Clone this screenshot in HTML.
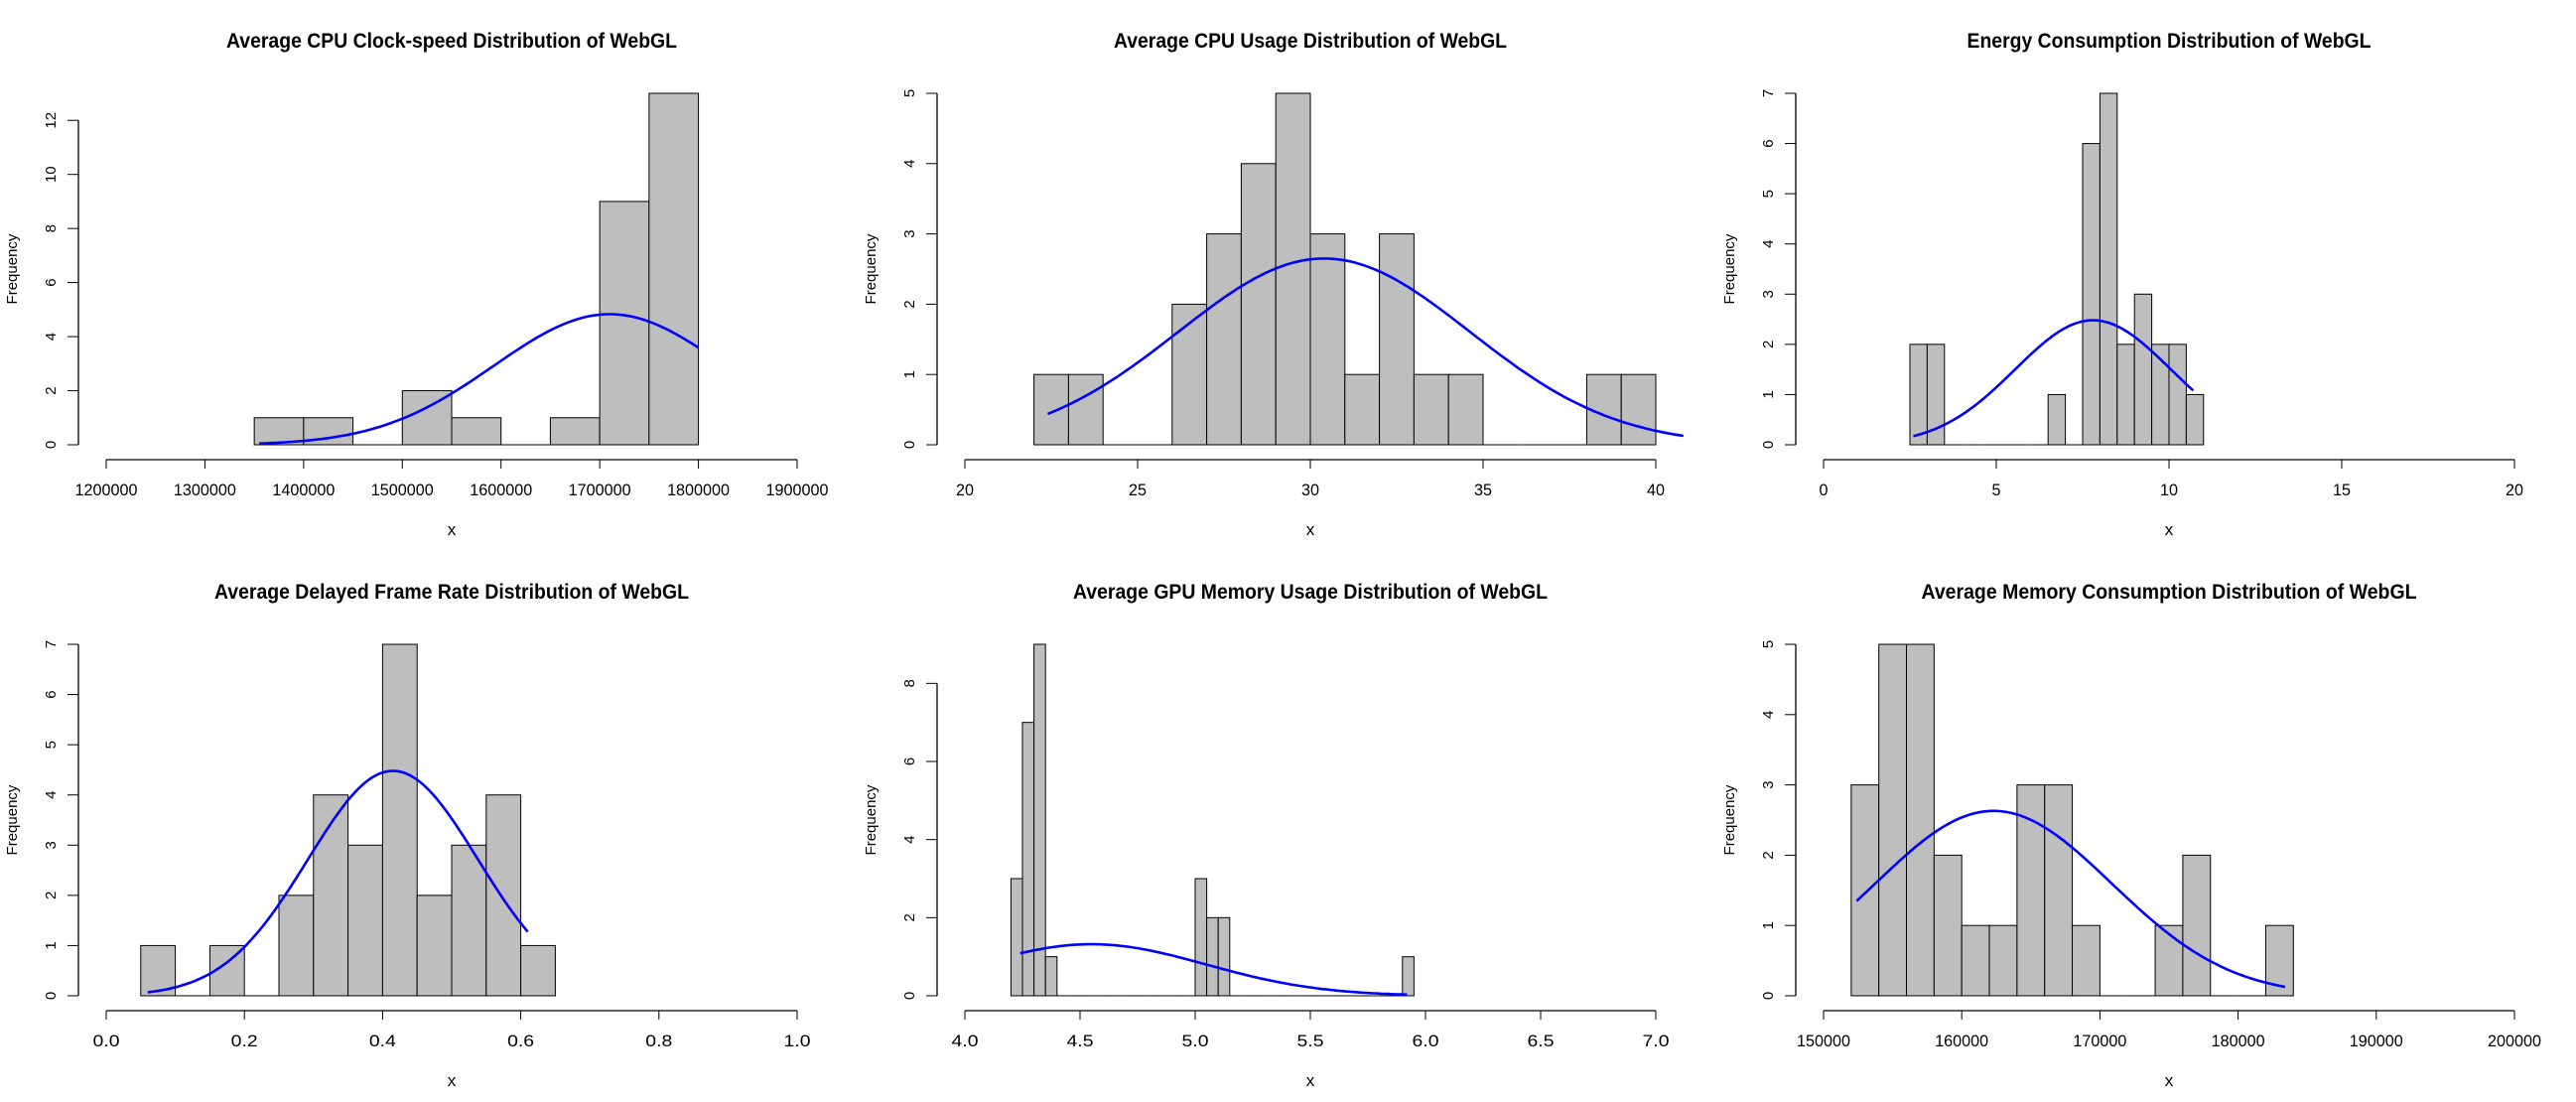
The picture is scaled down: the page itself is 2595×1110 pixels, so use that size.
<!DOCTYPE html>
<html><head><meta charset="utf-8"><style>
html,body{margin:0;padding:0;background:#fff;}
svg{display:block;font-family:"Liberation Sans",Arial,sans-serif;}
</style></head><body>
<svg id="fig" width="2595" height="1110" viewBox="0 0 2595 1110" xmlns="http://www.w3.org/2000/svg"></svg>
<script>
// ---- Chart 1: CPU clock-speed ----
const c1Title = "Average CPU Clock-speed Distribution of WebGL";
const c1BinStart = 1350000, c1BinWidth = 50000;
const c1Counts = [1,1,0,2,1,0,1,9,13];
const c1XTicks = [1200000,1300000,1400000,1500000,1600000,1700000,1800000,1900000];
const c1YTicks = [0,2,4,6,8,10,12];
const c1Curve = [1710000,117000,4.83,1355000,1800000]; // mean, sd, peak, from, to

// ---- Chart 2: CPU usage ----
const c2Title = "Average CPU Usage Distribution of WebGL";
const c2BinStart = 22, c2BinWidth = 1;
const c2Counts = [1,1,0,0,2,3,4,5,3,1,3,1,1,0,0,0,1,1];
const c2XTicks = [20,25,30,35,40];
const c2YTicks = [0,1,2,3,4,5];
const c2Curve = [30.4,4.22,2.65,22.4,40.8];

// ---- Chart 3: Energy ----
const c3Title = "Energy Consumption Distribution of WebGL";
const c3BinStart = 2.5, c3BinWidth = 0.5;
const c3Counts = [2,2,0,0,0,0,0,0,1,0,6,7,2,3,2,2,1];
const c3XTicks = [0,5,10,15,20];
const c3YTicks = [0,1,2,3,4,5,6,7];
const c3Curve = [7.8,2.25,2.48,2.6,10.7];

// ---- Chart 4: Delayed frame rate ----
const c4Title = "Average Delayed Frame Rate Distribution of WebGL";
const c4BinStart = 0.05, c4BinWidth = 0.05;
const c4Counts = [1,0,1,0,2,4,3,7,2,3,4,1];
const c4XTicks = [0.0,0.2,0.4,0.6,0.8,1.0];
const c4XLabels = ["0.0","0.2","0.4","0.6","0.8","1.0"];
const c4YTicks = [0,1,2,3,4,5,6,7];
const c4Curve = [0.415,0.123,4.48,0.06,0.61];

// ---- Chart 5: GPU memory ----
const c5Title = "Average GPU Memory Usage Distribution of WebGL";
const c5BinStart = 4.2, c5BinWidth = 0.05;
const c5Counts = [3,7,9,1,0,0,0,0,0,0,0,0,0,0,0,0,3,2,2,0,0,0,0,0,0,0,0,0,0,0,0,0,0,0,1];
const c5XTicks = [4.0,4.5,5.0,5.5,6.0,6.5,7.0];
const c5XLabels = ["4.0","4.5","5.0","5.5","6.0","6.5","7.0"];
const c5YTicks = [0,2,4,6,8];
const c5Curve = [4.55,0.498,1.32,4.24,5.92];

// ---- Chart 6: Memory consumption ----
const c6Title = "Average Memory Consumption Distribution of WebGL";
const c6BinStart = 152000, c6BinWidth = 2000;
const c6Counts = [3,5,5,2,1,1,3,3,1,0,0,1,2,0,0,1];
const c6XTicks = [150000,160000,170000,180000,190000,200000];
const c6YTicks = [0,1,2,3,4,5];
const c6Curve = [162300,8570,2.63,152400,183400];

const NS = "http://www.w3.org/2000/svg";
const svg = document.getElementById('fig');
function mk(tag, attrs, parent){
  const e = document.createElementNS(NS, tag);
  for (const k in attrs) e.setAttribute(k, attrs[k]);
  parent.appendChild(e); return e;
}

function drawChart(col,row,key,title,binStart,binWidth,counts,xTicks,xLabels,yTicks,curve,titleLen){
  const ox = col*865, oy = row*555;
  const g = mk('g',{transform:`translate(${ox},${oy})`},svg);
  
  
  const xmin = xTicks[0], xmax = xTicks[xTicks.length-1];
  const X0 = 107, X1 = 803, Y0 = 448, YT = 94;
  const ymax = Math.max(...counts);
  const sx = v => X0 + (v - xmin)/(xmax - xmin)*(X1 - X0);
  const sy = v => Y0 - v/ymax*(Y0 - YT);

  const t = mk('text',{x:455,y:48,'text-anchor':'middle','font-size':21,'font-weight':'bold',textLength:titleLen,lengthAdjust:'spacingAndGlyphs'},g);
  t.textContent = title;
  
  

  const bg = mk('g',{},g);
  
  
  counts.forEach((c,i)=>{
    if (c<=0) return;
    const a = sx(binStart + i*binWidth), b = sx(binStart + (i+1)*binWidth);
    const r = mk('rect',{x:a,y:sy(c),width:b-a,height:sy(0)-sy(c),fill:'#bebebe',stroke:'#000','stroke-width':1},bg);
    
    
  });
  counts.forEach((c,i)=>{
    if (c>0) return;
    const a = sx(binStart + i*binWidth), b = sx(binStart + (i+1)*binWidth);
    const l = mk('line',{x1:a,x2:b,y1:Y0,y2:Y0,stroke:'#000','stroke-width':1},bg);
    
    
  });

  const [mu,sd,pk,from,to] = curve;
  let d = '';
  const N = 120;
  for (let i=0;i<=N;i++){
    const xv = from + (to-from)*i/N;
    const yv = pk*Math.exp(-((xv-mu)*(xv-mu))/(2*sd*sd));
    d += (i?'L':'M') + sx(xv).toFixed(1) + ' ' + sy(yv).toFixed(1);
  }
  const p = mk('path',{d:d,fill:'none',stroke:'#0000ff','stroke-width':2.6},g);
  
  

  const xa = mk('g',{},g);
  
  
  mk('line',{x1:sx(xmin),x2:sx(xmax),y1:463,y2:463,stroke:'#000','stroke-width':1.3},xa);
  xTicks.forEach((v,i)=>{
    mk('line',{x1:sx(v),x2:sx(v),y1:463,y2:472,stroke:'#000','stroke-width':1},xa);
    const lab = xLabels ? xLabels[i] : String(v);
    const tt = mk('text',{x:sx(v),y:499,'text-anchor':'middle','font-size':17,textLength:lab.length*9,lengthAdjust:'spacingAndGlyphs'},xa);
    tt.textContent = lab;
    
    
  });
  const xl = mk('text',{x:455,y:539,'text-anchor':'middle','font-size':17},g);
  xl.textContent = 'x';
  
  

  const ya = mk('g',{},g);
  
  
  mk('line',{x1:79,x2:79,y1:sy(yTicks[0]),y2:sy(yTicks[yTicks.length-1]),stroke:'#000','stroke-width':1.3},ya);
  yTicks.forEach(v=>{
    mk('line',{x1:68,x2:79,y1:sy(v),y2:sy(v),stroke:'#000','stroke-width':1},ya);
    const tt = mk('text',{x:0,y:0,'text-anchor':'middle','font-size':15,transform:`translate(56,${sy(v)}) rotate(-90)`},ya);
    tt.textContent = String(v);
    
    
  });
  const yl = mk('text',{x:0,y:0,'text-anchor':'middle','font-size':15,transform:`translate(17,271) rotate(-90)`},g);
  yl.textContent = 'Frequency';
  
  
}

drawChart(0,0,'cpu-clock',c1Title,c1BinStart,c1BinWidth,c1Counts,c1XTicks,null,c1YTicks,c1Curve,454);
drawChart(1,0,'cpu-usage',c2Title,c2BinStart,c2BinWidth,c2Counts,c2XTicks,null,c2YTicks,c2Curve,396);
drawChart(2,0,'energy',c3Title,c3BinStart,c3BinWidth,c3Counts,c3XTicks,null,c3YTicks,c3Curve,407);
drawChart(0,1,'delayed-frame',c4Title,c4BinStart,c4BinWidth,c4Counts,c4XTicks,c4XLabels,c4YTicks,c4Curve,478);
drawChart(1,1,'gpu-memory',c5Title,c5BinStart,c5BinWidth,c5Counts,c5XTicks,c5XLabels,c5YTicks,c5Curve,478);
drawChart(2,1,'memory-consumption',c6Title,c6BinStart,c6BinWidth,c6Counts,c6XTicks,null,c6YTicks,c6Curve,499);
</script>
</body></html>
